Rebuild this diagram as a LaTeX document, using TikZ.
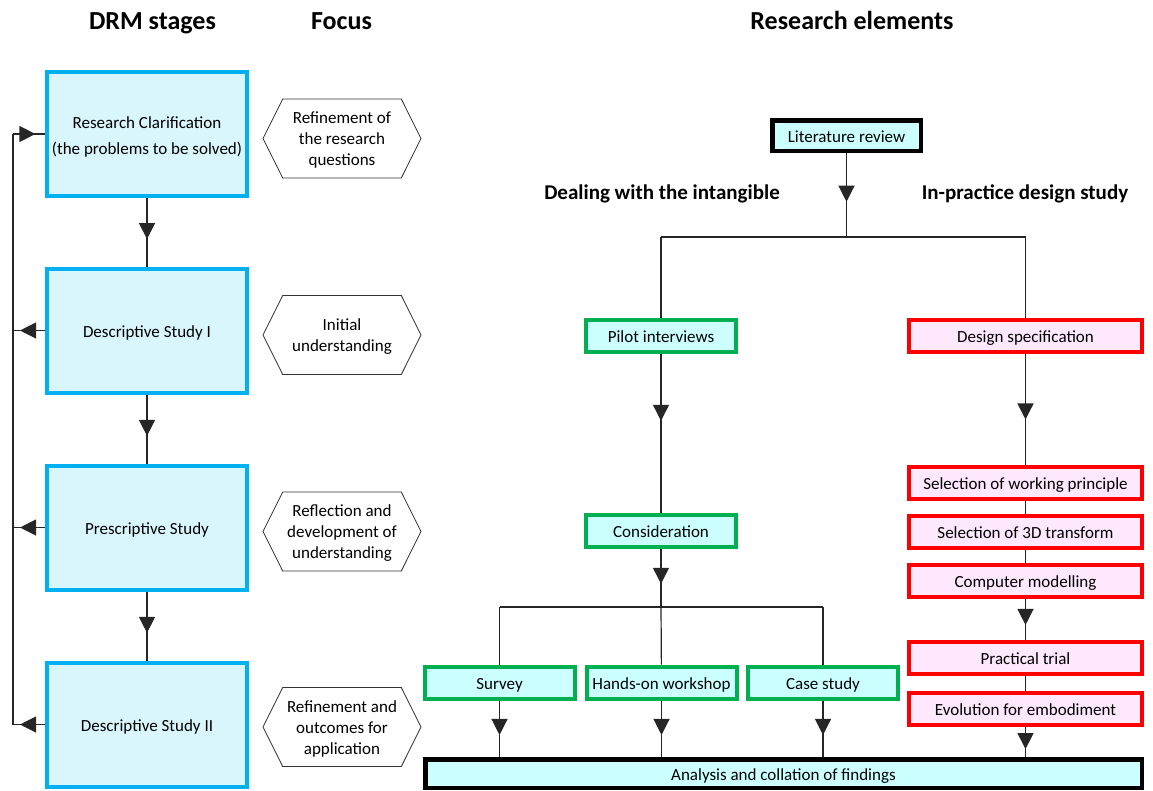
\documentclass[tikz,border=0pt]{standalone}
\usepackage{fontspec}
\setmainfont{Carlito}
\usetikzlibrary{arrows.meta,decorations.markings,shapes.symbols}

\definecolor{drmline}{HTML}{00B0F0}
\definecolor{drmfill}{HTML}{DAF6FD}
\definecolor{cyanfill}{HTML}{CCFFFF}
\definecolor{grnline}{HTML}{00B050}
\definecolor{redline}{HTML}{FF0000}
\definecolor{pinkfill}{HTML}{FDE8FD}

% taller first line, so that multi-line texts sit a little lower
\newcommand{\firstline}[1]{\rule{0pt}{#1}}

\tikzset{
  body/.style={font=\fontsize{17}{21}\selectfont, text=black},
  oneline/.style={text height=13.5pt, text depth=0pt},
  drm/.style={body, draw=drmline, fill=drmfill, line width=4pt,
    minimum width=200pt, minimum height=124pt, inner sep=0pt, align=center},
  focus/.style={body, draw=black!80, line width=0.8pt, shape=signal,
    signal to=east and west, signal pointer angle=127,
    minimum width=158pt, minimum height=79pt, inner sep=0pt, align=center},
  gbox/.style={body, oneline, draw=grnline, fill=cyanfill, line width=4pt,
    minimum width=150pt, minimum height=32pt, inner sep=0pt},
  rbox/.style={body, oneline, draw=redline, fill=pinkfill, line width=4pt,
    minimum width=233pt, minimum height=32pt, inner sep=0pt},
  kbox/.style={body, oneline, draw=black, fill=cyanfill, line width=4.5pt, inner sep=0pt},
  head/.style={font=\fontsize{26}{30}\bfseries\selectfont, anchor=base},
  subhead/.style={font=\fontsize{21}{25}\bfseries\selectfont, anchor=base},
  link/.style={draw=black!85, line width=1.2pt},
  tipat/.style={link, postaction={decorate}, decoration={markings,
    mark=at position #1 with {\arrow{Triangle[length=16pt,width=16pt]}}}},
}

\begin{document}
\begin{tikzpicture}[x=1pt, y=-1pt]
  \useasboundingbox (0,0) rectangle (1153,790);

  % column headings
  \node[head] (hdrm) at (152.5,29) {DRM stages};
  \node[head] (hfoc) at (341.5,29) {Focus};
  \node[head] (hres) at (852,29) {Research elements};

  % DRM stages
  \node[drm] (rc)  at (147,134)   {\firstline{18.5pt}Research Clarification\\[5pt](the problems to be solved)};
  \node[drm, oneline] (ds1) at (147,330.5) {Descriptive Study I};
  \node[drm, oneline] (ps)  at (147,527.5) {Prescriptive Study};
  \node[drm, oneline] (ds2) at (147,724.5) {Descriptive Study II};

  \draw[tipat=0.6] (rc) -- (ds1);
  \draw[tipat=0.6] (ds1) -- (ps);
  \draw[tipat=0.6] (ps) -- (ds2);

  % feedback loop on the left
  \coordinate (f1) at (13,134);
  \coordinate (f2) at (13,330.5);
  \coordinate (f3) at (13,527.5);
  \coordinate (f4) at (13,724.5);
  \draw[link] (f1) -- (f4);
  \draw[tipat=0.7] (f1) -- (rc.west);
  \draw[tipat=0.78] (ds1.west) -- (f2);
  \draw[tipat=0.78] (ps.west) -- (f3);
  \draw[tipat=0.78] (ds2.west) -- (f4);

  % focus of each stage
  \node[focus] (fc1) at (342,138.5) {\firstline{15pt}Refinement of\\the research\\questions};
  \node[focus] (fc2) at (342,335)   {\firstline{15pt}Initial\\understanding};
  \node[focus] (fc3) at (342,531.5) {\firstline{15pt}Reflection and\\development of\\understanding};
  \node[focus] (fc4) at (342,727)   {\firstline{15pt}Refinement and\\outcomes for\\application};

  % research elements
  \node[kbox, minimum width=148.5pt, minimum height=30.5pt] (lit) at (846.5,135.5) {Literature review};
  \node[subhead] (dwi) at (662,199)  {Dealing with the intangible};
  \node[subhead] (ipd) at (1025,199) {In-practice design study};

  \coordinate (j1) at (846.5,237);
  \coordinate (jl) at (661,237);
  \coordinate (jr) at (1025.5,237);

  \node[gbox] (pilot) at (661,336) {Pilot interviews};
  \node[gbox] (cons)  at (661,531) {Consideration};
  \node[gbox] (surv)  at (499.5,682.5) {Survey};
  \node[gbox] (hands) at (661.5,682.5) {Hands-on workshop};
  \node[gbox] (case)  at (823,682.5) {Case study};

  \node[rbox] (dspec) at (1025.5,336)   {Design specification};
  \node[rbox] (swp)   at (1025.5,483)   {Selection of working principle};
  \node[rbox] (s3d)   at (1025.5,531.5) {Selection of 3D transform};
  \node[rbox] (cm)    at (1025.5,581)   {Computer modelling};
  \node[rbox] (pt)    at (1025.5,657.5) {Practical trial};
  \node[rbox] (evo)   at (1025.5,708.5) {Evolution for embodiment};

  \node[kbox, minimum width=716.5pt, minimum height=28.5pt] (ana) at (783.5,773.5)
    {Analysis and collation of findings};

  \draw[tipat=0.58] (lit) -- (j1);
  \draw[link] (jl) -- (jr);
  \draw[link] (jl) -- (pilot);
  \draw[link] (jr) -- (dspec);

  \draw[tipat=0.42] (pilot) -- (cons);
  \coordinate (j2)  at (661,607);
  \coordinate (j2l) at (499.5,607);
  \coordinate (j2r) at (823,607);
  \draw[tipat=0.6] (cons) -- (j2);
  \draw[link] (j2l) -- (j2r);
  \draw[link] (j2l) -- (surv);
  \draw[link] (j2) -- (hands);
  \draw[link] (j2r) -- (case);

  \draw[tipat=0.61] (surv.south)  -- (surv.south |- ana.north);
  \draw[tipat=0.61] (hands.south) -- (hands.south |- ana.north);
  \draw[tipat=0.61] (case.south)  -- (case.south |- ana.north);

  \draw[tipat=0.59] (dspec) -- (swp);
  \draw[link] (swp) -- (s3d);
  \draw[link] (s3d) -- (cm);
  \draw[tipat=0.64] (cm) -- (pt);
  \draw[link] (pt) -- (evo);
  \draw[tipat=0.74] (evo.south) -- (evo.south |- ana.north);
\end{tikzpicture}
\end{document}
